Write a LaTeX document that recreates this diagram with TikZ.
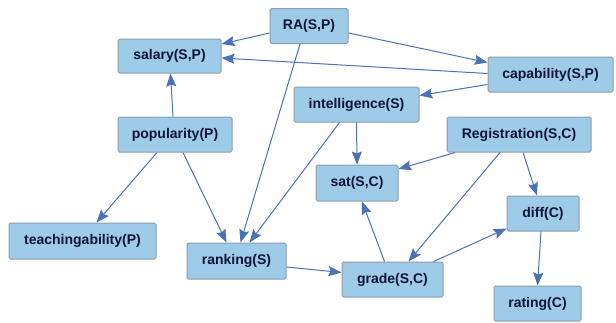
\documentclass[tikz,border=0pt]{standalone}
\usepackage{fontspec}
\setmainfont{Liberation Sans}
\usetikzlibrary{arrows.meta,calc}
\definecolor{boxfill}{HTML}{9DCBE8}
\definecolor{boxline}{HTML}{8C9CAA}
\definecolor{txt}{HTML}{10143A}
\definecolor{edgec}{HTML}{4A72B8}
\tikzset{
  box/.style={draw=boxline, fill=boxfill, line width=1pt, rounded corners=1.5pt,
    text=txt, font=\fontsize{14}{16}\selectfont\bfseries, inner sep=0pt},
  edge/.style={draw=edgec, line width=1pt, -{Stealth[length=13pt,width=10pt,inset=2pt]}}
}
\begin{document}
\begin{tikzpicture}[x=1pt,y=-1pt]
\useasboundingbox (0,0) rectangle (616,322);
\node[box, minimum width=78pt, minimum height=35pt] (ra) at (309,26) {RA(S,P)};
\node[box, minimum width=103pt, minimum height=34pt] (salary) at (169.5,56) {salary(S,P)};
\node[box, minimum width=114pt, minimum height=35pt] (pop) at (175,134.5) {popularity(P)};
\node[box, minimum width=125pt, minimum height=35pt] (cap) at (550.5,74.5) {capability(S,P)};
\node[box, minimum width=125pt, minimum height=35pt] (intel) at (356.5,104.5) {intelligence(S)};
\node[box, minimum width=144pt, minimum height=35pt] (reg) at (519,134.5) {Registration(S,C)};
\node[box, minimum width=147pt, minimum height=36pt] (teach) at (82.5,241) {teachingability(P)};
\node[box, minimum width=99pt, minimum height=36pt] (rank) at (236.5,261) {ranking(S)};
\node[box, minimum width=82pt, minimum height=36pt] (sat) at (357,183) {sat(S,C)};
\node[box, minimum width=72pt, minimum height=35pt] (diff) at (543,213.5) {diff(C)};
\node[box, minimum width=101pt, minimum height=35pt] (grade) at (392.5,279.5) {grade(S,C)};
\node[box, minimum width=87pt, minimum height=35pt] (rating) at (537.5,303.5) {rating(C)};

\draw[edge] ($(ra.west)+(0,7)$) -- ($(salary.east)+(0,-12)$);
\draw[edge] ($(ra.east)+(0,7)$) -- ($(cap.west)+(0,-12)$);
\draw[edge] ($(cap.west)+(0,-1)$) -- ($(salary.east)+(0,2)$);
\draw[edge] ($(cap.west)+(0,10)$) -- ($(intel.east)+(0,-9)$);
\draw[edge] ($(pop.north)+(-2,0)$) -- ($(salary.south)+(1,0)$);
\draw[edge] ($(pop.south)+(-18,0)$) -- ($(teach.north)+(14,0)$);
\draw[edge] ($(pop.south)+(8,0)$) -- ($(rank.north)+(-10,0)$);
\draw[edge] ($(ra.south)+(-9,0)$) -- ($(rank.north)+(4,0)$);
\draw[edge] ($(intel.south)+(-17,0)$) -- ($(rank.north)+(13,0)$);
\draw[edge] (intel.south) -- (sat.north);
\draw[edge] ($(reg.south)+(-64,0)$) -- ($(sat.east)+(0,-14)$);
\draw[edge] ($(reg.south)+(-19,0)$) -- ($(grade.north)+(16,0)$);
\draw[edge] ($(reg.south)+(4,0)$) -- ($(diff.north)+(-6,0)$);
\draw[edge] ($(rank.east)+(0,6)$) -- ($(grade.west)+(0,-7)$);
\draw[edge] ($(grade.north)+(-8,0)$) -- ($(sat.south)+(5,0)$);
\draw[edge] ($(grade.north)+(41,0)$) -- ($(diff.west)+(0,15)$);
\draw[edge] ($(diff.south)+(-2,0)$) -- (rating.north);
\end{tikzpicture}
\end{document}
